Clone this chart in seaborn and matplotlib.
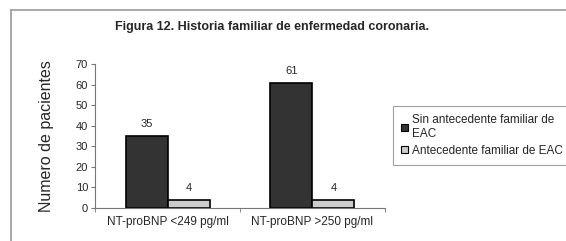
import matplotlib
matplotlib.use("Agg")
import matplotlib.pyplot as plt
from matplotlib.lines import Line2D
import pandas as pd
import seaborn as sns

# --- Data ---
groups = ["NT-proBNP <249 pg/ml", "NT-proBNP >250 pg/ml"]
series = ["Sin antecedente familiar de\nEAC", "Antecedente familiar de EAC"]
sin_antecedente = [35, 61]
con_antecedente = [4, 4]
colors = ["#333333", "#cccccc"]

df = pd.DataFrame({
    "grupo": groups * 2,
    "serie": [series[0]] * 2 + [series[1]] * 2,
    "pacientes": sin_antecedente + con_antecedente,
})

sns.set_style("white")
plt.rcParams["font.family"] = ["Liberation Sans", "DejaVu Sans"]

fig = plt.figure(figsize=(5.66, 2.41), dpi=100)
ax = fig.add_axes([0.168, 0.137, 0.512, 0.597])

sns.barplot(data=df, x="grupo", y="pacientes", hue="serie", order=groups,
            hue_order=series, palette=colors, width=0.58, edgecolor="black",
            linewidth=1.2, saturation=1, ax=ax)

# value labels above bars
for cont in ax.containers:
    ax.bar_label(cont, padding=5, fontsize=8)

ax.set_ylim(0, 70)
ax.set_yticks(range(0, 71, 10))
ax.set_xlim(-0.5, 1.5)
ax.set_xlabel("")
ax.set_ylabel("Numero de pacientes", fontsize=11.5, labelpad=16)
ax.tick_params(axis="y", labelsize=8, length=3, direction="out", color="#777777", left=True, pad=2)
ax.tick_params(axis="x", labelsize=8.5, length=0, pad=6)
ax.set_xticks([-0.5, 0.5, 1.5], minor=True)
ax.tick_params(axis="x", which="minor", length=3, direction="out", color="#777777", bottom=True)
for side in ["top", "right"]:
    ax.spines[side].set_visible(False)
for side in ["left", "bottom"]:
    ax.spines[side].set_color("#777777")
    ax.spines[side].set_linewidth(0.8)

# legend
handles, labels = ax.get_legend_handles_labels()
ax.legend_.remove()
leg = fig.legend(handles, labels, loc="upper left", bbox_to_anchor=(0.694, 0.56),
                 fontsize=8.5, frameon=True, fancybox=False, edgecolor="#888888",
                 handlelength=0.6, handleheight=0.6, handletextpad=0.3,
                 labelspacing=0.4, borderpad=0.7, borderaxespad=0)
leg.get_frame().set_linewidth(0.8)
for h in leg.legend_handles:
    h.set_linewidth(0.8)

# title and outer frame
fig.text(0.48, 0.888, "Figura 12. Historia familiar de enfermedad coronaria.",
         ha="center", va="center", fontsize=9, fontweight="bold")
fig.add_artist(Line2D([0.019, 0.019], [0, 0.959], color="#999999", lw=1.2))
fig.add_artist(Line2D([0.019, 1], [0.959, 0.959], color="#999999", lw=1.2))

fig.savefig("out.png", dpi=100)
